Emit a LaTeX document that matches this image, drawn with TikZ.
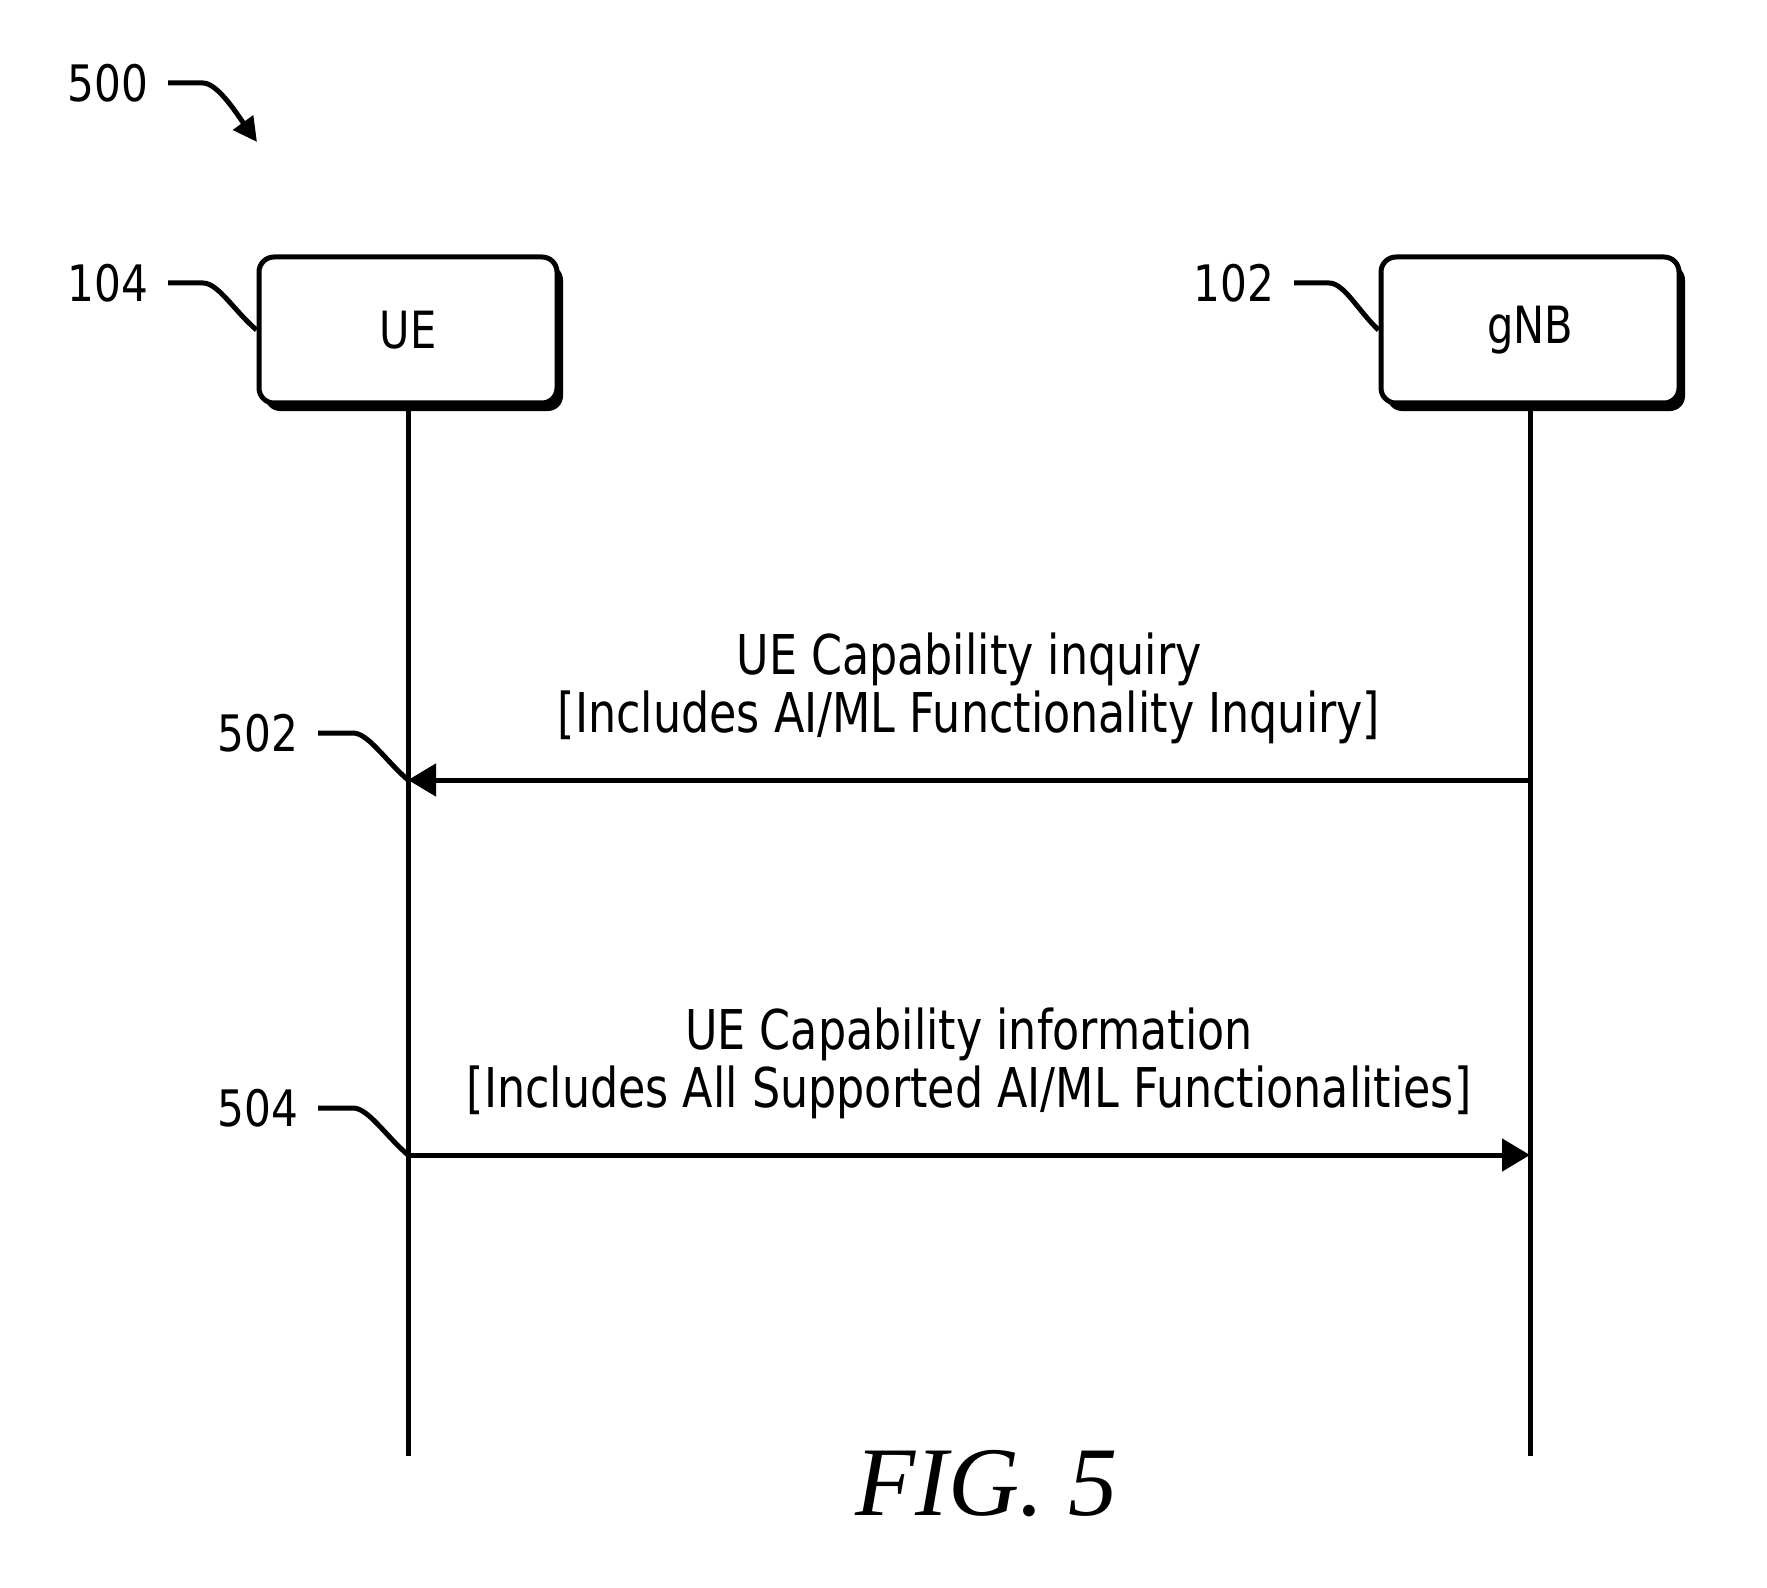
\documentclass[tikz,border=0pt]{standalone}
\usepackage{fontspec}
\newfontfamily\tahfont[FakeStretch=0.81]{DejaVu Sans}
\newfontfamily\numfont[FakeStretch=0.84]{DejaVu Sans}
\newfontfamily\figfont{Liberation Serif}
\usetikzlibrary{arrows.meta,shadows}

\begin{document}
\begin{tikzpicture}[line width=0.05cm,
  actor/.style={draw, fill=white, rounded corners=0.15cm,
    minimum width=2.98cm, minimum height=1.46cm,
    drop shadow={shadow xshift=0.06cm, shadow yshift=-0.08cm, fill=black, opacity=1},
    font=\tahfont\fontsize{14.6}{17}\selectfont},
  refnum/.style={anchor=east, inner sep=0pt, font=\numfont\fontsize{14.3}{16}\selectfont},
  msgtext/.style={anchor=south, align=center, inner sep=0pt,
    font=\tahfont\fontsize{15.6}{16.5}\selectfont},
  msg/.style={-{Triangle[length=0.28cm, width=0.32cm]}}]
  \useasboundingbox (0,0) rectangle (17.67,-15.88);

  \node[actor] (ue)  at (4.08,-3.30)  {UE};
  \node[actor] (gnb) at (15.30,-3.30) {gNB};
  \coordinate (ueEnd)  at (4.08,-14.56);
  \coordinate (gnbEnd) at (15.30,-14.56);
  \draw (ue.south)  -- (ueEnd);
  \draw (gnb.south) -- (gnbEnd);

  \coordinate (ue502)  at (4.08,-7.80);
  \coordinate (gnb502) at (15.30,-7.80);
  \coordinate (ue504)  at (4.08,-11.55);
  \coordinate (gnb504) at (15.30,-11.55);
  \draw[msg] (gnb502) -- (ue502);
  \draw[msg] (ue504) -- (gnb504);
  \node[msgtext] (m502) at (9.69,-7.46)
    {UE Capability inquiry\\ {[}Includes AI/ML Functionality Inquiry{]}};
  \node[msgtext] (m504) at (9.69,-11.21)
    {UE Capability information\\ {[}Includes All Supported AI/ML Functionalities{]}};

  \node[refnum] (n500) at (1.51,-0.83)   {500};
  \node[refnum] (n104) at (1.51,-2.83)   {104};
  \node[refnum] (n102) at (12.77,-2.83)  {102};
  \node[refnum] (n502) at (3.01,-7.33)   {502};
  \node[refnum] (n504) at (3.01,-11.08)  {504};
  \coordinate (tip500) at (2.57,-1.42);

  \draw[-{Triangle[length=0.24cm, width=0.24cm]}] ([xshift=0.17cm]n500.east) -- ++(0.35,0)
    .. controls +(0.15,0) and +(-0.18,0.25) .. (tip500);
  \draw ([xshift=0.17cm]n104.east) -- ++(0.35,0)
    .. controls +(0.15,0) and +(-0.23,0.2) .. (ue.west);
  \draw ([xshift=0.17cm]n102.east) -- ++(0.35,0)
    .. controls +(0.15,0) and +(-0.21,0.2) .. (gnb.west);
  \draw ([xshift=0.17cm]n502.east) -- ++(0.35,0)
    .. controls +(0.15,0) and +(-0.23,0.2) .. (ue502);
  \draw ([xshift=0.17cm]n504.east) -- ++(0.35,0)
    .. controls +(0.15,0) and +(-0.23,0.2) .. (ue504);

  \node[anchor=base, font=\figfont\itshape\fontsize{28}{30}\selectfont] (fig) at (9.87,-15.15) {FIG. 5};
\end{tikzpicture}
\end{document}
